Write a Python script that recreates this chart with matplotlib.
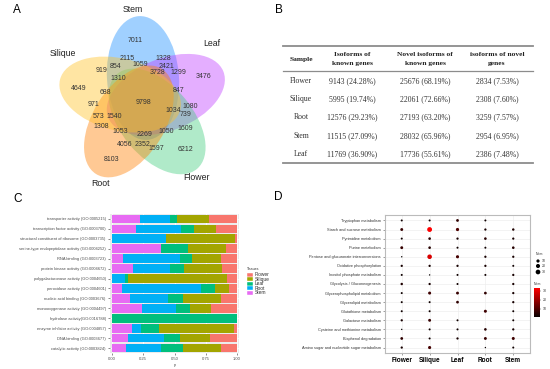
import matplotlib
matplotlib.use("Agg")
import matplotlib.pyplot as plt
from matplotlib.patches import Ellipse, Rectangle
from matplotlib.colors import LinearSegmentedColormap, Normalize
from matplotlib.cm import ScalarMappable
import numpy as np

plt.rcParams['font.family'] = ['Liberation Sans', 'DejaVu Sans']

# ---------------- data: panel A (Venn) ----------------
venn_sets = ['Stem', 'Leaf', 'Flower', 'Root', 'Silique']
venn_counts = [7011, 1328, 2115, 1059, 2421, 919, 854, 3728, 1299, 3476,
               1310, 4649, 688, 847, 9798, 971, 1034, 1080, 739, 573,
               1540, 1308, 1053, 2269, 1050, 1609, 4056, 2352, 1597, 6212, 8103]

# ---------------- data: panel B (table) ----------------
table_header = ['Sample', 'Isoforms of\nknown genes',
                'Novel isoforms of\nknown genes', 'isoforms of novel\ngenes']
table_samples = ['Flower', 'Silique', 'Root', 'Stem', 'Leaf']
known_isoforms = ['9143 (24.28%)', '5995 (19.74%)', '12576 (29.23%)',
                  '11515 (27.09%)', '11769 (36.90%)']
novel_known_isoforms = ['25676 (68.19%)', '22061 (72.66%)', '27193 (63.20%)',
                        '28032 (65.96%)', '17736 (55.61%)']
novel_gene_isoforms = ['2834 (7.53%)', '2308 (7.60%)', '3259 (7.57%)',
                       '2954 (6.95%)', '2386 (7.48%)']

# ---------------- data: panel C (GO stacked bars) ----------------
go_terms = ['transporter activity (GO:0005215)',
            'transcription factor activity (GO:0003700)',
            'structural constituent of ribosome (GO:0003735)',
            'serine-type endopeptidase activity (GO:0004252)',
            'RNA binding (GO:0003723)',
            'protein kinase activity (GO:0004672)',
            'polygalacturonase activity (GO:0004650)',
            'peroxidase activity (GO:0004601)',
            'nucleic acid binding (GO:0003676)',
            'monooxygenase activity (GO:0004497)',
            'hydrolase activity(GO:0016788)',
            'enzyme inhibitor activity (GO:0004857)',
            'DNA binding (GO:0003677)',
            'catalytic activity (GO:0003824)']
go_stem = [0.224, 0.192, 0.0, 0.391, 0.084, 0.165, 0.0, 0.078, 0.140, 0.237, 0.0, 0.157, 0.131, 0.110]
go_root = [0.241, 0.360, 0.428, 0.0, 0.461, 0.295, 0.105, 0.635, 0.305, 0.273, 0.0, 0.076, 0.287, 0.281]
go_leaf = [0.057, 0.106, 0.0, 0.216, 0.098, 0.114, 0.024, 0.114, 0.126, 0.114, 1.0, 0.145, 0.123, 0.179]
go_silique = [0.255, 0.176, 0.553, 0.305, 0.228, 0.308, 0.792, 0.109, 0.301, 0.171, 0.0, 0.599, 0.240, 0.301]
go_flower = [0.223, 0.166, 0.019, 0.088, 0.129, 0.118, 0.079, 0.064, 0.128, 0.205, 0.0, 0.023, 0.219, 0.129]
tissues = ['Flower', 'Silique', 'Leaf', 'Root', 'Stem']

# ---------------- data: panel D (KEGG dot plot) ----------------
pathways = ['Tryptophan metabolism', 'Starch and sucrose metabolism',
            'Pyrimidine metabolism', 'Purine metabolism',
            'Pentose and glucuronate interconversions',
            'Oxidative phosphorylation', 'Inositol phosphate metabolism',
            'Glycolysis / Gluconeogenesis', 'Glycerophospholipid metabolism',
            'Glycerolipid metabolism', 'Glutathione metabolism',
            'Galactose metabolism', 'Cysteine and methionine metabolism',
            'Bisphenol degradation', 'Amino sugar and nucleotide sugar metabolism']
kegg_flower = [2, 7, 2, 7, 1, 3, 2, 4, 2, 2, 2, 3, 1, 6, 3]
kegg_silique = [2, 33, 5, 5, 28, 3, 1, 3, 8, 2, 2, 7, 2, 2, 9]
kegg_leaf = [6, 10, 3, 2, 9, 3, 2, 2, 7, 6, 0, 2, 2, 3, 0]
kegg_root = [2, 3, 5, 2, 3, 3, 2, 0, 6, 0, 8, 0, 5, 7, 1]
kegg_stem = [0, 4, 3, 5, 3, 2, 3, 3, 3, 3, 2, 2, 3, 8, 2]
num_legend = [10, 20, 30]

# ---------------- layout / style ----------------
W, H = 550, 369
fig = plt.figure(figsize=(5.5, 3.69), dpi=100)


def px_axes(x0, y0, x1, y1):
    return fig.add_axes([x0 / W, 1 - y1 / H, (x1 - x0) / W, (y1 - y0) / H])


# ===== Panel A =====
axA = px_axes(0, 0, 275, 185)
axA.set_xlim(0, 275)
axA.set_ylim(185, 0)
axA.axis('off')
venn_colors = ['#1e90ff', '#bf3eff', '#43cd80', '#ff7f00', '#ffc125']
C = (143, 102)
for k, (name, col) in enumerate(zip(venn_sets, venn_colors)):
    th_deg = 90 - 72 * k
    th = np.deg2rad(th_deg)
    cx = C[0] + 24 * np.cos(th)
    cy = C[1] - 24 * np.sin(th)
    axA.add_patch(Ellipse((cx, cy), 124, 72, angle=-(th_deg + 4), facecolor=col,
                          alpha=0.42, edgecolor='none'))
venn_count_xy = [(135, 40), (163, 58), (127, 59), (140, 64), (166, 66), (102, 71),
                 (116, 67), (158, 73), (178, 73), (203, 77), (118, 78), (79, 88),
                 (105, 92), (179, 90), (143, 102), (94, 105), (173, 110), (190, 106),
                 (186, 115), (99, 117), (114, 116), (101, 127), (120, 132), (145, 135),
                 (166, 132), (185, 128), (125, 145), (143, 145), (156, 149), (185, 150),
                 (112, 160)]
for v, (x, y) in zip(venn_counts, venn_count_xy):
    axA.text(x, y, str(v), fontsize=5.0, ha='center', va='center', color='#333333')
venn_label_xy = [(133, 9), (212, 43), (197, 178), (100, 184), (63, 54)]
for name, (x, y) in zip(venn_sets, venn_label_xy):
    axA.text(x, y, name, fontsize=6.3, ha='center', va='center', color='#222222',
             clip_on=False)

# ===== Panel B =====
axB = px_axes(275, 0, 550, 185)
axB.set_xlim(275, 550)
axB.set_ylim(185, 0)
axB.axis('off')
axB.plot([283, 533], [46, 46], color='#8c8c8c', lw=1.3)
axB.plot([283, 533], [71, 71], color='#8c8c8c', lw=0.9)
axB.plot([283, 533], [163, 163], color='#8c8c8c', lw=1.3)
col_x = [301, 352, 425, 497]
serif = ['Liberation Serif', 'DejaVu Serif']
for i, (hx, ht) in enumerate(zip(col_x, table_header)):
    axB.text(hx, 59, ht, fontsize=5.4, ha='center', va='center', family=serif,
             fontweight='bold', linespacing=1.9, color='#222222')
row_y = [81, 99, 117, 136, 154]
for j, y in enumerate(row_y):
    vals = [table_samples[j], known_isoforms[j], novel_known_isoforms[j],
            novel_gene_isoforms[j]]
    for hx, t in zip(col_x, vals):
        axB.text(hx, y, t, fontsize=5.6, ha='center', va='center', family=serif,
                 color='#333333')

# ===== Panel C =====
tissue_colors = {'Flower': '#F8766D', 'Silique': '#A3A500', 'Leaf': '#00BF7D',
                 'Root': '#00B0F6', 'Stem': '#E76BF3'}
axC = px_axes(110, 214, 239, 353)
axC.set_facecolor('#EBEBEB')
ypos = np.arange(len(go_terms))
left = np.zeros(len(go_terms))
for name, vals in [('Stem', go_stem), ('Root', go_root), ('Leaf', go_leaf),
                   ('Silique', go_silique), ('Flower', go_flower)]:
    vals = np.array(vals)
    axC.barh(ypos, vals, left=left, height=0.88, color=tissue_colors[name],
             edgecolor='none', zorder=2)
    left += vals
axC.set_xlim(-0.016, 1.016)
axC.set_ylim(len(go_terms) - 0.5, -0.5)
for g in [0, 0.25, 0.5, 0.75, 1.0]:
    axC.axvline(g, color='white', lw=0.6, zorder=1)
for yy in ypos:
    axC.axhline(yy, color='white', lw=0.6, zorder=1)
axC.set_yticks(ypos)
axC.set_yticklabels(go_terms, fontsize=2.9, color='#4D4D4D')
axC.set_xticks([0, 0.25, 0.5, 0.75, 1.0])
axC.set_xticklabels(['0.00', '0.25', '0.50', '0.75', '1.00'], fontsize=3.0,
                    color='#4D4D4D')
axC.tick_params(length=1.5, width=0.4, color='#333333', pad=1.5)
for s in axC.spines.values():
    s.set_visible(False)
axC.set_xlabel('y', fontsize=2.8, labelpad=1.5, color='#222222')

# ===== Panel D =====
axD = px_axes(385, 215, 530, 353)
cmap = LinearSegmentedColormap.from_list('br', ['#000000', '#FF0000'])
norm = Normalize(vmin=0, vmax=33)


def dot_size(v):
    v = np.asarray(v, dtype=float)
    d = 1.0 + 2.5 * np.sqrt(np.clip(v - 1, 0, None) / 32.0)
    return d ** 2


rows = np.arange(len(pathways))[::-1]  # Tryptophan at top
for ci, vals in enumerate([kegg_flower, kegg_silique, kegg_leaf, kegg_root, kegg_stem]):
    vals = np.array(vals, dtype=float)
    m = vals > 0
    axD.scatter(np.full(m.sum(), ci), rows[m], s=dot_size(vals[m]),
                c=vals[m], cmap=cmap, norm=norm, edgecolors='none', zorder=3)
axD.set_xlim(-0.6, 4.6)
axD.set_ylim(-0.6, len(pathways) - 0.4)
axD.set_xticks(range(5))
axD.set_xticklabels(tissues, fontsize=4.7, fontweight='bold', color='black')
axD.set_yticks(rows)
axD.set_yticklabels(pathways, fontsize=2.8, color='#333333')
axD.tick_params(length=1.5, width=0.4, color='#555555', pad=1.5)
axD.grid(True, color='#EBEBEB', lw=0.4, zorder=0)
axD.set_axisbelow(True)
for s in axD.spines.values():
    s.set_color('#BBBBBB')
    s.set_linewidth(0.8)

# colourbar
cax = px_axes(534, 288, 540, 317)
cb = fig.colorbar(ScalarMappable(norm=norm, cmap=cmap), cax=cax)
cb.set_ticks([10, 20, 30])
cb.ax.tick_params(labelsize=2.5, length=1, width=0.3, colors='#333333', pad=1)
cb.outline.set_visible(False)
cax.set_ylim(1, 33)

# ===== overlay: panel letters & legends =====
axO = fig.add_axes([0, 0, 1, 1])
axO.set_xlim(0, W)
axO.set_ylim(H, 0)
axO.axis('off')
axO.patch.set_alpha(0)
for lt, (x, y) in zip('ABCD', [(13, 10), (275, 10), (13, 199), (274, 197)]):
    axO.text(x, y, lt, fontsize=8.5, ha='left', va='center', color='black')

# legend C
axO.text(247, 269, 'Tissues', fontsize=2.6, ha='left', va='center', color='#333333')
for i, t in enumerate(tissues):
    yy = 275 + i * 4.4
    axO.add_patch(Rectangle((247, yy - 2), 6, 4, facecolor=tissue_colors[t],
                            edgecolor='white', lw=0.3))
    axO.text(255, yy, t, fontsize=3.5, ha='left', va='center', color='#333333')

# legend D (size)
axO.text(536, 254, 'Num', fontsize=2.5, ha='left', va='center', color='#333333')
for i, v in enumerate(num_legend):
    yy = [261, 266, 272][i]
    axO.scatter([538], [yy], s=dot_size(v), color='black', edgecolors='none')
    axO.text(542, yy, str(v), fontsize=2.5, ha='left', va='center', color='#333333')
axO.text(534, 284, 'Num', fontsize=2.5, ha='left', va='center', color='#333333')

fig.savefig('out.png', dpi=100)
